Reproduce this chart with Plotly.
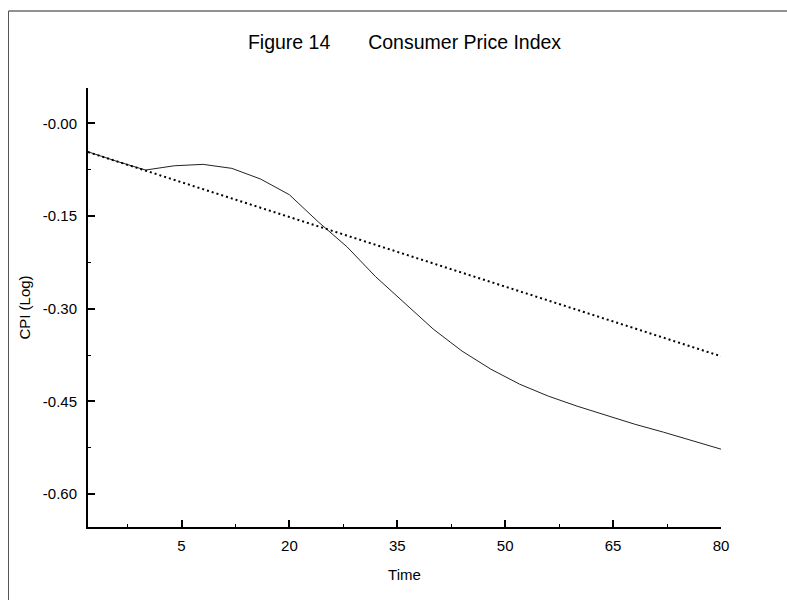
import plotly.graph_objects as go

# Data
time = [-8, -4, 0, 4, 8, 12, 16, 20, 24, 28, 32, 36, 40, 44, 48, 52, 56, 60, 64, 68, 72, 76, 80]
cpi_actual = [-0.046, -0.0615, -0.0756, -0.0687, -0.0664, -0.0729, -0.0902, -0.1156,
              -0.1594, -0.1998, -0.2484, -0.2915, -0.3331, -0.3687, -0.3979, -0.4222,
              -0.4416, -0.4578, -0.4724, -0.4870, -0.4999, -0.5137, -0.5274]
cpi_trend = [-0.0465, -0.0615, -0.0765, -0.0916, -0.1066, -0.1216, -0.1366, -0.1516,
             -0.1667, -0.1817, -0.1967, -0.2117, -0.2267, -0.2418, -0.2568, -0.2718,
             -0.2868, -0.3018, -0.3169, -0.3319, -0.3469, -0.3619, -0.3770]
x_ticks = [5, 20, 35, 50, 65, 80]
y_ticks = [0.0, -0.15, -0.30, -0.45, -0.60]
y_tick_labels = ["-0.00", "-0.15", "-0.30", "-0.45", "-0.60"]

FONT = "Liberation Sans, Arial, sans-serif"

fig = go.Figure()
fig.add_trace(go.Scatter(x=time, y=cpi_actual, mode="lines",
                         line=dict(color="#222222", width=1), showlegend=False))
fig.add_trace(go.Scatter(x=time, y=cpi_trend, mode="lines",
                         line=dict(color="#000000", width=2, dash="2px,3px"), showlegend=False))

W, H = 787, 600
L, T = 88, 88
R, B = W - 721, H - 527
pw, ph = W - L - R, H - T - B

fig.update_layout(
    width=W, height=H,
    margin=dict(l=L, r=R, t=T, b=B, pad=0, autoexpand=False),
    paper_bgcolor="white", plot_bgcolor="white",
    font=dict(family=FONT, size=15, color="black"),
    title=dict(text="Figure 14" + "\u00a0" * 7 + "Consumer Price Index",
               font=dict(family=FONT, size=19.5, color="black"),
               x=0.5, xref="paper", xanchor="center",
               y=1 - 42 / H, yref="container", yanchor="middle"),
    xaxis=dict(range=[-8, 80], showgrid=False, zeroline=False, automargin=False,
               showline=True, linecolor="black", linewidth=2,
               tickmode="array", tickvals=x_ticks,
               ticks="inside", ticklen=7, tickwidth=1.5, tickcolor="black",
               ticklabelstandoff=4,
               minor=dict(ticks="inside", ticklen=3, tickwidth=1, tickcolor="black",
                          tickmode="linear", tick0=5, dtick=7.5, showgrid=False),
               title=dict(text="Time", font=dict(family=FONT, size=15), standoff=16)),
    yaxis=dict(range=[-0.6534, 0.0572], showgrid=False, zeroline=False, automargin=False,
               showline=True, linecolor="black", linewidth=2,
               tickmode="array", tickvals=y_ticks, ticktext=y_tick_labels,
               ticks="inside", ticklen=7, tickwidth=1.5, tickcolor="black",
               ticklabelstandoff=6,
               minor=dict(ticks="inside", ticklen=3, tickwidth=1, tickcolor="black",
                          tickmode="linear", tick0=0, dtick=0.075, showgrid=False),
               title=dict(text="CPI (Log)", font=dict(family=FONT, size=15), standoff=9)),
)

# outer frame: only the left and top edges are visible in the reference
fx0 = (8.5 - L) / pw
fx1 = (W + 5 - L) / pw
fy_top = (H - B - 11) / ph
fy_bot = (H - B - H - 10) / ph
fig.add_shape(type="line", xref="paper", yref="paper",
              x0=fx0, x1=fx1, y0=fy_top, y1=fy_top,
              line=dict(color="#222222", width=1), layer="below")
fig.add_shape(type="line", xref="paper", yref="paper",
              x0=fx0, x1=fx0, y0=fy_top, y1=fy_bot,
              line=dict(color="#555555", width=1), layer="below")

fig.write_html("out.html", config={"displayModeBar": False},
               post_script="document.body.style.margin='0';document.body.style.overflow='hidden';")
